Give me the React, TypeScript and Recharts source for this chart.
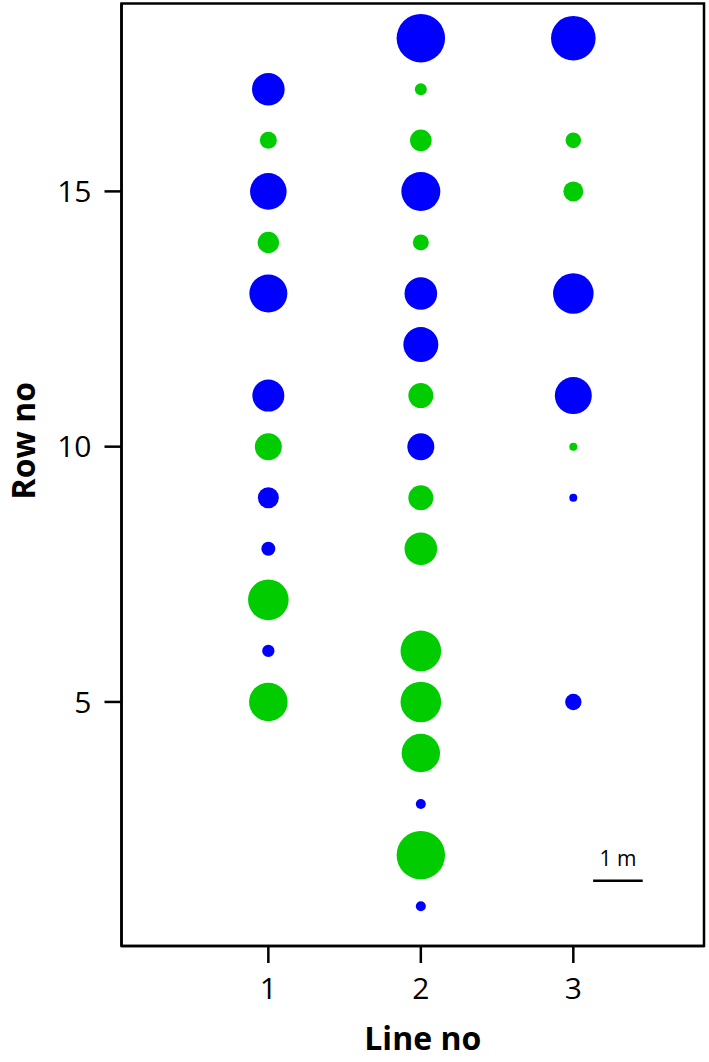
import React from 'react';
import { ScatterChart, Scatter, XAxis, YAxis, ZAxis, ReferenceLine, ReferenceArea, Label } from 'recharts';

// ---- data ----
const lineNos = [1, 2, 3];
const rowTicks = [5, 10, 15];

// B = blue, G = green ; values are bubble magnitudes (area-proportional)
const line1Rows = [17, 16, 15, 14, 13, 11, 10, 9, 8, 7, 6, 5];
const line1Kinds = ['B', 'G', 'B', 'G', 'B', 'B', 'G', 'B', 'B', 'G', 'B', 'G'];
const line1Values = [266, 72, 335, 114, 361, 256, 182, 110, 49, 412, 38, 372];

const line2Rows = [18, 17, 16, 15, 14, 13, 12, 11, 10, 9, 8, 6, 5, 4, 3, 2, 1];
const line2Kinds = ['B', 'G', 'G', 'B', 'G', 'B', 'B', 'G', 'B', 'G', 'G', 'G', 'G', 'G', 'B', 'G', 'B'];
const line2Values = [586, 36, 117, 380, 64, 266, 306, 156, 182, 156, 266, 412, 412, 369, 25, 586, 25];

const line3Rows = [18, 16, 15, 13, 11, 10, 9, 5];
const line3Kinds = ['B', 'G', 'G', 'B', 'B', 'G', 'B', 'B'];
const line3Values = [497, 61, 100, 412, 342, 16, 16, 67];

// scale bar "1 m" in data units
const scaleBarX = [3.13, 3.455];
const scaleBarY = 1.5;
const scaleBarText = '1 m';

const xDomain = [0.037, 3.857];
const yDomain = [0.22, 18.68];

type Pt = { x: number; y: number; z: number; kind: string };

function buildLine(line: number, rows: number[], kinds: string[], values: number[]): Pt[] {
  return rows.map((r, i) => ({ x: line, y: r, z: values[i], kind: kinds[i] }));
}

const allPoints: Pt[] = [
  ...buildLine(lineNos[0], line1Rows, line1Kinds, line1Values),
  ...buildLine(lineNos[1], line2Rows, line2Kinds, line2Values),
  ...buildLine(lineNos[2], line3Rows, line3Kinds, line3Values),
];
const blueData = allPoints.filter((p) => p.kind === 'B');
const greenData = allPoints.filter((p) => p.kind === 'G');

const FONT = '"Open Sans", "Noto Sans", sans-serif';
const axisStroke = { stroke: '#000', strokeWidth: 2.5 };

const RowLabel = (props: any) => {
  const vb = props.viewBox || { x: 0, y: 3.5, width: 121.5, height: 942.5 };
  const cx = vb.x + 35;
  const cy = vb.y + vb.height / 2 - 34;
  return (
    <text
      x={cx}
      y={cy}
      transform={`rotate(-90, ${cx}, ${cy})`}
      textAnchor="middle"
      fontFamily={FONT}
      fontWeight={700}
      fontSize={32}
      fill="#000"
    >
      Row no
    </text>
  );
};

const LineLabel = (props: any) => {
  const vb = props.viewBox || { x: 121.5, y: 946, width: 582.5, height: 116 };
  const cx = vb.x + vb.width / 2 + 10;
  const cy = vb.y + 104;
  return (
    <text x={cx} y={cy} textAnchor="middle" fontFamily={FONT} fontWeight={700} fontSize={32} fill="#000">
      Line no
    </text>
  );
};

export default function App() {
  return (
    <div style={{ position: 'absolute', left: 0, top: 0, background: '#fff' }}>
      <ScatterChart width={709} height={1062} margin={{ top: 3.5, right: 5, bottom: 0, left: 0 }}>
        <XAxis
          type="number"
          dataKey="x"
          domain={xDomain}
          allowDataOverflow
          ticks={lineNos}
          interval={0}
          height={116}
          tickSize={17}
          tickMargin={15}
          axisLine={axisStroke}
          tickLine={axisStroke}
          tick={{ fontSize: 30, fill: '#000', fontFamily: FONT }}
        >
          <Label content={LineLabel} />
        </XAxis>
        <YAxis
          type="number"
          dataKey="y"
          domain={yDomain}
          allowDataOverflow
          ticks={rowTicks}
          interval={0}
          width={121.5}
          tickSize={17}
          tickMargin={13}
          axisLine={axisStroke}
          tickLine={axisStroke}
          tick={{ fontSize: 30, fill: '#000', fontFamily: FONT }}
        >
          <Label content={RowLabel} />
        </YAxis>
        <ZAxis type="number" dataKey="z" domain={[0, 1000]} range={[0, 1000 * Math.PI]} />
        <ReferenceArea
          x1={xDomain[0]}
          x2={xDomain[1]}
          y1={yDomain[0]}
          y2={yDomain[1]}
          fill="none"
          fillOpacity={0}
          stroke="#000"
          strokeWidth={2.5}
          ifOverflow="visible"
        />
        <Scatter data={greenData} fill="#00cc00" shape="circle" isAnimationActive={false} />
        <Scatter data={blueData} fill="#0000ff" shape="circle" isAnimationActive={false} />
        <ReferenceLine
          segment={[
            { x: scaleBarX[0], y: scaleBarY },
            { x: scaleBarX[1], y: scaleBarY },
          ]}
          stroke="#000"
          strokeWidth={2.5}
          label={{ value: scaleBarText, position: 'top', offset: 15, fontSize: 21, fill: '#000', fontFamily: FONT }}
        />
      </ScatterChart>
    </div>
  );
}
